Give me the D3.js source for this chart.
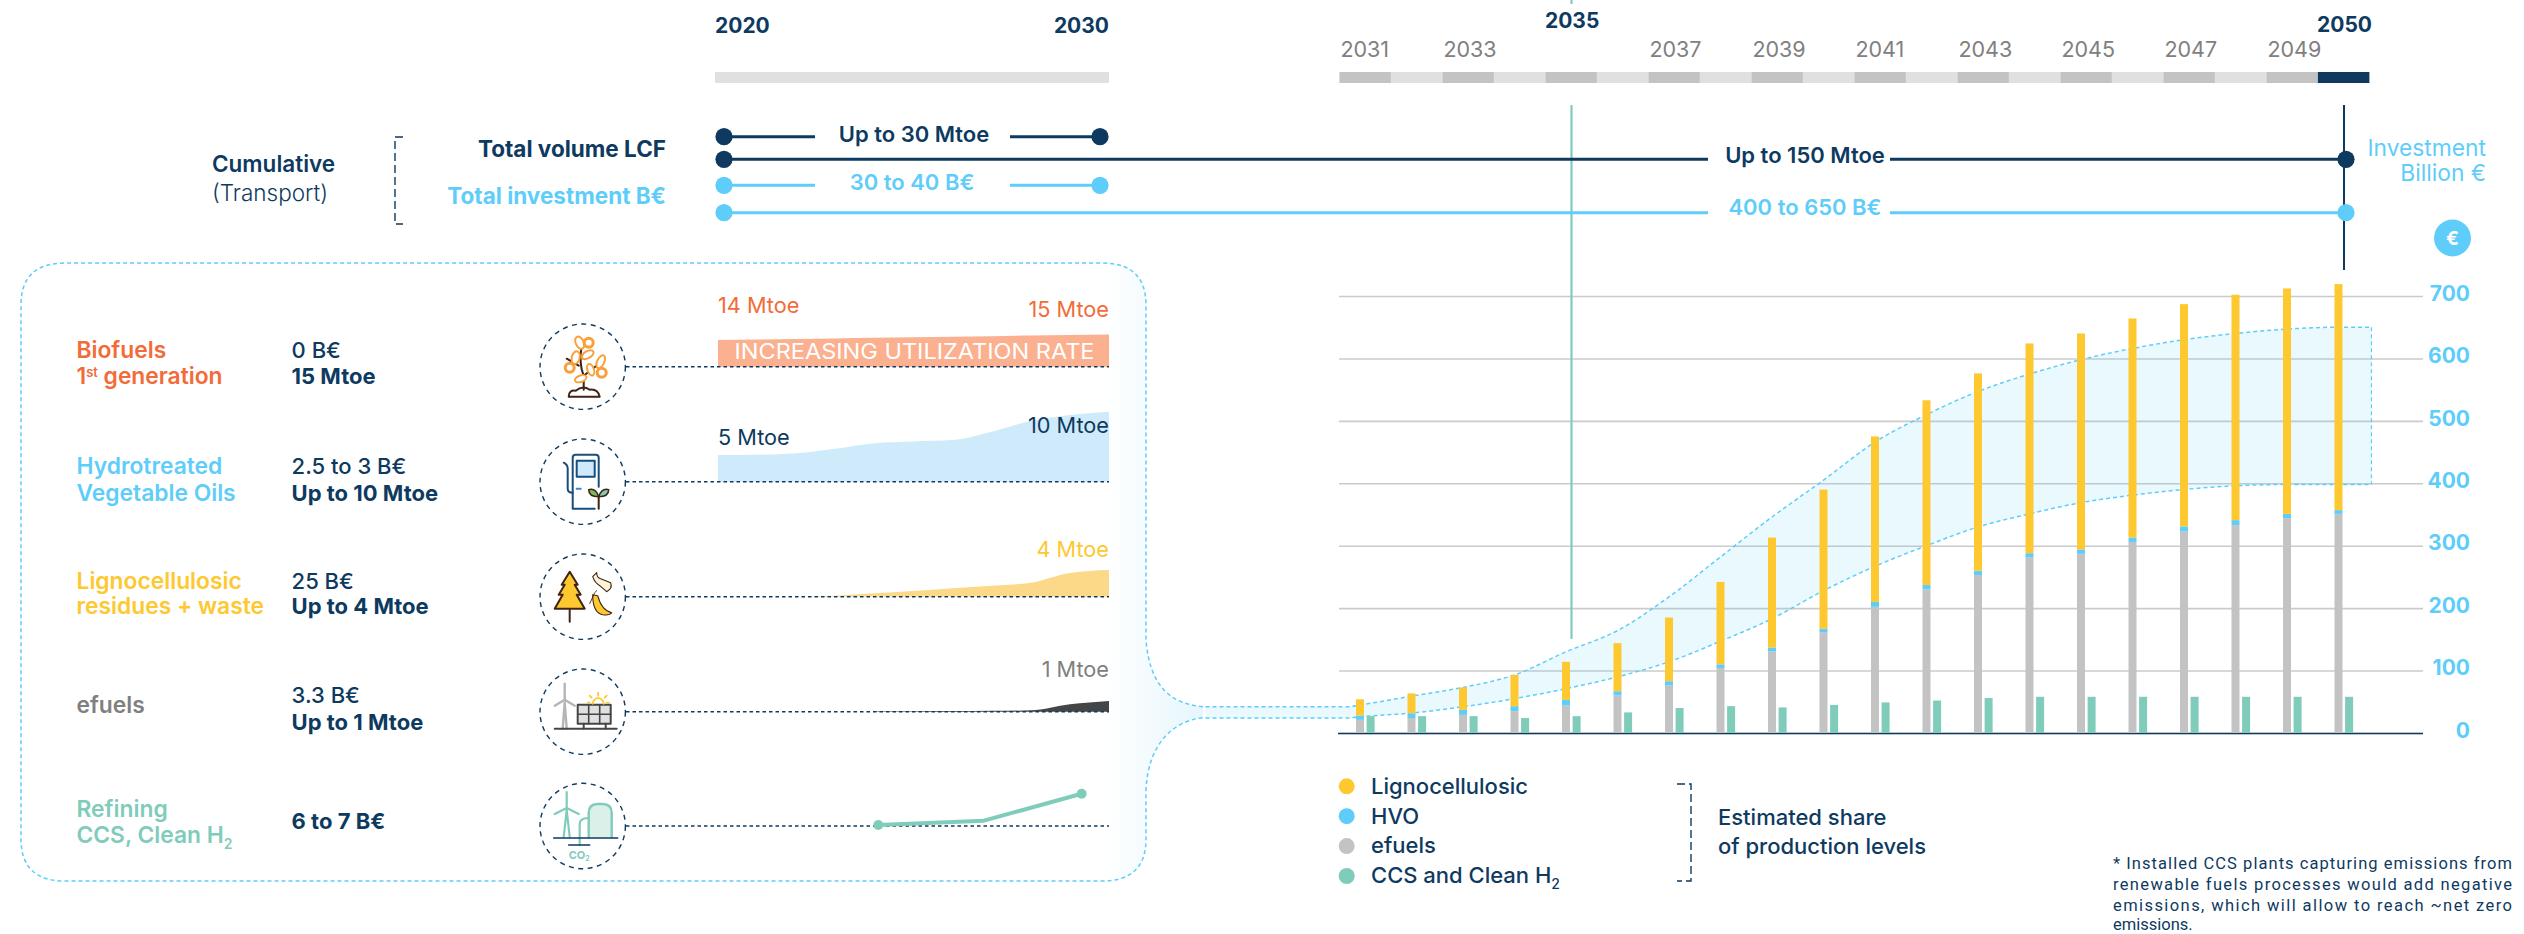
<!DOCTYPE html>
<html lang="en">
<head>
<meta charset="utf-8">
<script src="https://d3js.org/d3.v7.min.js"></script>
<style>
  html, body { margin: 0; padding: 0; background: #fff; }
  svg { display: block; }
  text { font-family: Inter, "Noto Sans", sans-serif; }
</style>
</head>
<body>
<script>
// colours
var navy = "#0e3a5f", sky = "#5fcdf9", yellow = "#fdc830", grey = "#c2c3c2",
    teal = "#7fccbb", orange = "#f26b38", midGrey = "#808080", salmon = "#fbb08f";

// yearly estimated production, stacked bars
var years = d3.range(2031, 2051);
var efuels = [21, 24, 29, 35, 44, 60, 76, 104, 131, 161, 202, 230, 253, 281, 287, 306, 323, 333, 344, 351];
var hvo = [7, 7.5, 8, 8, 9, 7, 7, 6, 6, 6, 8, 7, 7, 7, 7, 7, 8, 8, 7, 6];
var lignocellulosic = [26, 32, 36, 50, 61, 77, 102, 132, 176, 223, 265, 296, 316, 336, 346, 351, 356, 361, 361, 362];
var ccsH2 = [27, 27, 27, 24, 27, 33, 40, 43, 41, 45, 49, 52, 56, 58, 58, 58, 58, 58, 58, 58];

// investment band
var bandYears = [2028, 2030.75, 2031, 2032, 2033, 2034, 2035, 2036, 2037, 2038, 2039, 2040, 2041, 2042, 2043, 2044, 2045, 2046, 2047, 2048, 2049, 2050, 2050.64];
var bandUpper = [42, 42, 45, 59, 73, 93, 130, 164, 218, 282, 346, 405, 466, 510, 547, 575, 598, 616, 630, 640, 647, 650, 650];
var bandLower = [24, 24, 26, 32, 42, 55, 71, 90, 114, 147, 183, 228, 267, 300, 330, 351, 369, 381, 390, 396, 398, 398, 398];
var yTicks = [0, 100, 200, 300, 400, 500, 600, 700];

// small panel curves, on one shared 0-10 scale, 2020 to 2030
var panelYears = d3.range(2020, 2031);
var biofuelsArea = [3.8, 3.88, 3.96, 4.04, 4.12, 4.2, 4.28, 4.36, 4.44, 4.52, 4.6];
var hvoArea = [3.8, 3.85, 4.05, 4.7, 5.5, 5.76, 5.95, 7.14, 8.67, 9.52, 10];
var lignoArea = [null, null, 0, 0.14, 0.48, 0.8, 1.2, 1.57, 2, 3.4, 3.8];
var efuelsArea = [null, null, null, null, 0.05, 0.07, 0.09, 0.12, 0.19, 1.05, 1.52];
var ccsYears = [2024.1, 2026.8, 2029.3];
var ccsLine = [0.14, 0.76, 4.6];

var legendNames = ["Lignocellulosic", "HVO", "efuels", "CCS and Clean H"];
var legendColors = [yellow, sky, grey, teal];
var footnote = ["* Installed CCS plants capturing emissions from",
                "renewable fuels processes would add negative",
                "emissions,  which will allow to reach ~net zero",
                "emissions."];

var width = 2524, height = 934;
var svg = d3.select("body").append("svg").attr("width", width).attr("height", height);

function label(txt, x, y, color, size, weight, anchor) {
  return svg.append("text").attr("x", x).attr("y", y).attr("fill", color)
    .attr("font-size", size).attr("font-weight", weight || 400)
    .attr("text-anchor", anchor || "start").text(txt);
}
function sub(sel, txt, dy, size) {
  sel.append("tspan").attr("dy", dy).attr("font-size", size).text(txt);
  return sel;
}

// scales
var x = d3.scaleBand().domain(years).range([1339.4, 2369.4]);
var y = d3.scaleLinear().domain([0, 700]).range([733, 296]);
var bandX = d3.scaleLinear().domain([2031, 2050]).range([1360, 2338.5]);

/* ---------- timeline ---------- */
svg.append("rect").attr("x", 715).attr("y", 72).attr("width", 394).attr("height", 11).attr("fill", "#e0e0e0");
svg.selectAll(".seg").data(years).enter().append("rect").attr("class", "seg")
  .attr("x", function(d) { return x(d); })
  .attr("y", 72).attr("width", x.bandwidth()).attr("height", 11)
  .attr("fill", function(d) { return d == 2050 ? navy : (d % 2 ? grey : "#e0e0e0"); });
svg.selectAll(".yr").data(years.filter(function(d) { return d % 2 && d != 2035; })).enter().append("text").attr("class", "yr")
  .attr("x", function(d) { return x(d) + 1; }).attr("y", 57)
  .attr("fill", midGrey).attr("font-size", 21.5).text(function(d) { return d; });
label("2020", 715, 33, navy, 21, 700);
label("2030", 1109, 33, navy, 21, 700, "end");
label("2035", x(2035) + x.bandwidth() / 2 + 1, 28, navy, 21, 700, "middle");
label("2050", 2372, 32, navy, 21, 700, "end");

/* ---------- investment panel with neck ---------- */
var defs = svg.append("defs");
var grad = defs.append("linearGradient").attr("id", "neck").attr("gradientUnits", "userSpaceOnUse")
  .attr("x1", 1105).attr("x2", 1203).attr("y1", 0).attr("y2", 0);
grad.append("stop").attr("offset", 0).attr("stop-color", "#ffffff");
grad.append("stop").attr("offset", 1).attr("stop-color", "#e6f6fd");

svg.append("path")
  .attr("d", "M1203,706.7 C1172,704 1150,688 1146,640 L1146,305 Q1146,263 1102,263 L65,263 Q21,263 21,305 L21,839 Q21,881 65,881 L1102,881 Q1146,881 1146,839 L1146,790 C1148,745 1172,721 1203,717.7")
  .attr("fill", "url(#neck)").attr("stroke", sky).attr("stroke-width", 1.5).attr("stroke-dasharray", "4 3");

/* ---------- main chart ---------- */
var yAxis = d3.axisRight(y).tickValues(yTicks).tickSize(-1084).tickPadding(0);
var axisG = svg.append("g").attr("transform", "translate(2423,0)").call(yAxis);
axisG.select(".domain").remove();
axisG.selectAll(".tick line").attr("stroke", "#cbcbcb").attr("stroke-width", 1.6);
axisG.selectAll(".tick text").attr("x", 47).attr("dy", "0.2em").attr("text-anchor", "end")
  .attr("fill", sky).attr("font-size", 21).attr("font-weight", 700)
  .style("font-family", "Inter, sans-serif");
svg.append("line").attr("x1", 1338).attr("x2", 2423).attr("y1", y(0) + 0.5).attr("y2", y(0) + 0.5)
  .attr("stroke", navy).attr("stroke-width", 1.5);

var bandData = bandYears.map(function(d, i) { return { yr: d, lo: bandLower[i], hi: bandUpper[i] }; });
var bandArea = d3.area().curve(d3.curveMonotoneX)
  .x(function(d) { return bandX(d.yr); })
  .y0(function(d) { return y(d.lo); })
  .y1(function(d) { return y(d.hi); });
svg.append("path").datum(bandData).attr("d", bandArea).attr("fill", sky).attr("fill-opacity", 0.13);
var bandDash = "4 3";
[["hi"], ["lo"]].forEach(function(k) {
  svg.append("path").datum(bandData)
    .attr("d", d3.line().curve(d3.curveMonotoneX)
      .x(function(d) { return bandX(d.yr); })
      .y(function(d) { return y(d[k[0]]); }))
    .attr("fill", "none").attr("stroke", sky).attr("stroke-width", 1.5).attr("stroke-dasharray", bandDash);
});
svg.append("line").attr("x1", bandX(2050.64)).attr("x2", bandX(2050.64))
  .attr("y1", y(650)).attr("y2", y(398))
  .attr("stroke", sky).attr("stroke-width", 1.2).attr("stroke-dasharray", bandDash);

// stacked bars
var stackRows = years.map(function(d, i) {
  return { year: d, efuels: efuels[i], hvo: hvo[i], ligno: lignocellulosic[i] };
});
var stacked = d3.stack().keys(["efuels", "hvo", "ligno"])(stackRows);
var stackColor = { efuels: grey, hvo: sky, ligno: yellow };
svg.selectAll(".layer").data(stacked).enter().append("g").attr("class", "layer")
  .attr("fill", function(d) { return stackColor[d.key]; })
  .selectAll("rect").data(function(d) { return d; }).enter().append("rect")
  .attr("x", function(d) { return x(d.data.year) + 16.6; })
  .attr("y", function(d) { return y(d[1]); })
  .attr("width", 8)
  .attr("height", function(d) { return y(d[0]) - y(d[1]); });
svg.selectAll(".ccs").data(ccsH2).enter().append("rect").attr("class", "ccs")
  .attr("x", function(d, i) { return x(years[i]) + 27.2; })
  .attr("y", function(d) { return y(d); })
  .attr("width", 8)
  .attr("height", function(d) { return y(0) - y(d); })
  .attr("fill", teal);

// 2035 and 2050 markers
svg.append("line").attr("x1", 1571.5).attr("x2", 1571.5).attr("y1", 105).attr("y2", 639).attr("stroke", teal).attr("stroke-width", 2.2);
svg.append("line").attr("x1", 1571.5).attr("x2", 1571.5).attr("y1", 0).attr("y2", 4).attr("stroke", teal).attr("stroke-width", 2.2);
svg.append("line").attr("x1", 2344).attr("x2", 2344).attr("y1", 105).attr("y2", 270).attr("stroke", navy).attr("stroke-width", 2);

/* ---------- cumulative rows ---------- */
function bar(y0, x1, x2, gap1, gap2, color, txt, txtX, txtY) {
  svg.append("line").attr("x1", x1).attr("x2", gap1).attr("y1", y0).attr("y2", y0).attr("stroke", color).attr("stroke-width", 3);
  svg.append("line").attr("x1", gap2).attr("x2", x2).attr("y1", y0).attr("y2", y0).attr("stroke", color).attr("stroke-width", 3);
  svg.append("circle").attr("cx", x1).attr("cy", y0).attr("r", 8.6).attr("fill", color);
  svg.append("circle").attr("cx", x2).attr("cy", y0).attr("r", 8.6).attr("fill", color);
  label(txt, txtX, txtY, color, 22, 600, "middle");
}
bar(136.7, 724, 1100, 815, 1010, navy, "Up to 30 Mtoe", 914, 142);
bar(159.3, 724, 2346, 1708, 1890, navy, "Up to 150 Mtoe", 1805, 163);
bar(185.3, 724, 1100, 815, 1010, sky, "30 to 40 B€", 912, 190);
bar(212.7, 724, 2346, 1708, 1890, sky, "400 to 650 B€", 1805, 215);

label("Cumulative", 212, 171.7, navy, 22.5, 600);
label("(Transport)", 212, 201, navy, 22.5, 300);
label("Total volume LCF", 666, 157, navy, 22.5, 700, "end");
label("Total investment B€", 666, 203.5, sky, 22.5, 700, "end");
svg.append("path").attr("d", "M403,137 L395,137 L395,224 L403,224").attr("fill", "none")
  .attr("stroke", navy).attr("stroke-width", 1.4).attr("stroke-dasharray", "8 4");

label("Investment", 2486, 155.7, sky, 22.8, 400, "end");
label("Billion €", 2486, 180.7, sky, 22.8, 400, "end");
svg.append("circle").attr("cx", 2452.5).attr("cy", 238).attr("r", 18.5).attr("fill", sky);
label("€", 2452.5, 245, "#fff", 19, 700, "middle");

/* ---------- panel rows ---------- */
var rowY = [366.7, 481.7, 596.7, 711.7, 826];
var panelX = d3.scaleLinear().domain([2020, 2030]).range([718, 1109]);
var panelH = d3.scaleLinear().domain([0, 10]).range([0, 70]);

function panelArea(values, baseY, color) {
  var pts = panelYears.map(function(d, i) { return { yr: d, v: values[i] }; })
    .filter(function(d) { return d.v !== null; });
  svg.append("path").datum(pts)
    .attr("d", d3.area().curve(d3.curveMonotoneX)
      .x(function(d) { return panelX(d.yr); })
      .y0(baseY)
      .y1(function(d) { return baseY - panelH(d.v); }))
    .attr("fill", color);
}
panelArea(biofuelsArea, rowY[0], salmon);
panelArea(hvoArea, rowY[1], "#cfeafa");
panelArea(lignoArea, rowY[2], "#fbd988");
panelArea(efuelsArea, rowY[3], "#444546");

rowY.forEach(function(r) {
  svg.append("line").attr("x1", 626).attr("x2", 1109).attr("y1", r).attr("y2", r)
    .attr("stroke", navy).attr("stroke-width", 1.6).attr("stroke-dasharray", "3.5 3");
  svg.append("circle").attr("cx", 582.7).attr("cy", r).attr("r", 42.7)
    .attr("fill", "#fff").attr("stroke", navy).attr("stroke-width", 1.4).attr("stroke-dasharray", "5 4.5");
});

// CCS line
var ccsPts = ccsYears.map(function(d, i) { return { yr: d, v: ccsLine[i] }; });
svg.append("path").datum(ccsPts)
  .attr("d", d3.line()
    .x(function(d) { return panelX(d.yr); })
    .y(function(d) { return rowY[4] - panelH(d.v); }))
  .attr("fill", "none").attr("stroke", teal).attr("stroke-width", 4).attr("stroke-linejoin", "round");
svg.selectAll(".ccsDot").data([ccsPts[0], ccsPts[2]]).enter().append("circle").attr("class", "ccsDot")
  .attr("cx", function(d) { return panelX(d.yr); })
  .attr("cy", function(d) { return rowY[4] - panelH(d.v); })
  .attr("r", 5).attr("fill", teal);

label("INCREASING UTILIZATION RATE", 734.5, 359.3, "#fff", 21.5, 400).attr("textLength", 360).attr("lengthAdjust", "spacingAndGlyphs");
label("14 Mtoe", 718, 313.3, orange, 21.7);
label("15 Mtoe", 1109, 316.7, orange, 21.7, 400, "end");
label("5 Mtoe", 718, 445, navy, 21.7);
label("10 Mtoe", 1109, 433, navy, 21.7, 400, "end");
label("4 Mtoe", 1109, 557, yellow, 21.7, 400, "end");
label("1 Mtoe", 1109, 677, midGrey, 21.7, 400, "end");

// left hand text
var tx = 76.5, vx = 291.6, ts = 22.8;
label("Biofuels", tx, 357.7, orange, ts, 600);
sub(sub(label("1", tx, 384, orange, ts, 600), "st", -7, 13), " generation", 7, ts);
label("0 B€", vx, 357.7, navy, 22, 500);
label("15 Mtoe", vx, 384, navy, 22, 700);
label("Hydrotreated", tx, 474, sky, ts, 600);
label("Vegetable Oils", tx, 500.7, sky, ts, 600);
label("2.5 to 3 B€", vx, 474, navy, 22, 500);
label("Up to 10 Mtoe", vx, 500.7, navy, 22, 700);
label("Lignocellulosic", tx, 589, yellow, ts, 600);
label("residues + waste", tx, 614.3, yellow, ts, 600);
label("25 B€", vx, 589, navy, 22, 500);
label("Up to 4 Mtoe", vx, 614.3, navy, 22, 700);
label("efuels", tx, 712.7, midGrey, ts, 600);
label("3.3 B€", vx, 703.3, navy, 22, 500);
label("Up to 1 Mtoe", vx, 730, navy, 22, 700);
label("Refining", tx, 817.3, teal, ts, 600);
sub(label("CCS, Clean H", tx, 843.3, teal, ts, 600), "2", 6, 14);
label("6 to 7 B€", vx, 829.3, navy, 22, 700);

/* ---------- icons, roughly traced ---------- */
var brown = "#3f2413";
function icon(i) {
  return svg.append("g").attr("transform", "translate(582.7," + rowY[i] + ")")
    .attr("fill", "none").attr("stroke-linecap", "round").attr("stroke-linejoin", "round");
}
// plant
var g0 = icon(0);
g0.append("path").attr("d", "M-14,30 Q-14,23 -7,24 Q0,18 7,23 Q15,22 17,30 Z").attr("fill", "#fff").attr("stroke", brown).attr("stroke-width", 2);
g0.append("path").attr("d", "M1,23 L1,9 Q-4,-2 -1,-22 M1,9 L15,-2 M-4,-1 L-16,-8").attr("stroke", brown).attr("stroke-width", 2);
[[-3, -24, 4, 6.5, -25], [-7, -9, 4, 6.5, 15], [5, -12, 3.5, 6.5, 60], [18, -5, 3.5, 7, 25], [8, 3, 3.2, 6, -20], [-2, 12, 3.2, 6, 70]].forEach(function(l) {
  g0.append("ellipse").attr("rx", l[2]).attr("ry", l[3]).attr("fill", "#fff").attr("stroke", "#f9a03c").attr("stroke-width", 2)
    .attr("transform", "translate(" + l[0] + "," + l[1] + ") rotate(" + l[4] + ")");
});
[[6, -24], [-13, 1], [19, 6]].forEach(function(l) {
  g0.append("circle").attr("cx", l[0]).attr("cy", l[1]).attr("r", 4.5).attr("fill", "#fff").attr("stroke", "#f9a03c").attr("stroke-width", 3);
});
// pump
var g1 = icon(1);
g1.append("path").attr("d", "M-10,27 L-10,-24 Q-10,-27 -7,-27 L13,-27 Q16,-27 16,-24 L16,5 M-10,27 L12,27").attr("stroke", "#184e7e").attr("stroke-width", 2);
g1.append("rect").attr("x", -6).attr("y", -21).attr("width", 18).attr("height", 16).attr("fill", "#cfeafa").attr("stroke", "#184e7e").attr("stroke-width", 2);
g1.append("path").attr("d", "M-19,-19 Q-15,-17 -15,-13 L-15,7 Q-15,11 -10,11").attr("stroke", "#184e7e").attr("stroke-width", 2);
g1.append("line").attr("x1", -6).attr("x2", -2).attr("y1", 7).attr("y2", 7).attr("stroke", "#3a86c4").attr("stroke-width", 2);
g1.append("path").attr("d", "M16,27 L16,15").attr("stroke", brown).attr("stroke-width", 2);
g1.append("path").attr("d", "M16,15 Q6,15 6,8 Q13,6 16,15").attr("fill", "#7cb86a").attr("stroke", brown).attr("stroke-width", 1.5);
g1.append("path").attr("d", "M16,15 Q26,15 26,8 Q19,6 16,15").attr("fill", "#7fccbb").attr("stroke", brown).attr("stroke-width", 1.5);
// tree and waste
var g2 = icon(2);
g2.append("line").attr("x1", -13).attr("x2", -13).attr("y1", 13).attr("y2", 25).attr("stroke", brown).attr("stroke-width", 2);
g2.append("path").attr("d", "M-13,-25 L-5,-12 L-8,-12 L-2,-2 L-6,-2 L2,12 L-28,12 L-20,-2 L-24,-2 L-18,-12 L-21,-12 Z").attr("fill", yellow).attr("stroke", brown).attr("stroke-width", 2);
g2.append("path").attr("d", "M14,-24 Q14,-19 18,-18 L28,-14 Q30,-8 24,-5 L17,-11 Q12,-14 10,-20 Z").attr("fill", "#fdf3d8").attr("stroke", brown).attr("stroke-width", 1.1);
g2.append("path").attr("d", "M10,-2 Q10,16 20,18 Q27,19 29,16 Q19,14 15,-1 Z").attr("fill", yellow).attr("stroke", brown).attr("stroke-width", 1.1);
g2.append("path").attr("d", "M7,7 L12,-4 L14,-6").attr("stroke", brown).attr("stroke-width", 0.9);
// wind and solar
var g3 = icon(3);
g3.append("path").attr("d", "M-20,17 L-18,-9 L-16,17 M-18,-28 L-18,-12 M-18,-12 L-28,-6 M-18,-12 L-8,-6").attr("stroke", "#b5b5b5").attr("stroke-width", 2.4);
g3.append("rect").attr("x", -5).attr("y", -7).attr("width", 33).attr("height", 19).attr("fill", "#e0e0e0").attr("stroke", "#444546").attr("stroke-width", 2);
g3.append("path").attr("d", "M6,-7 L6,12 M17,-7 L17,12 M-5,2.5 L28,2.5").attr("stroke", "#444546").attr("stroke-width", 1.6);
g3.append("path").attr("d", "M1,12 L1,17 M23,12 L23,17").attr("stroke", "#444546").attr("stroke-width", 2);
g3.append("line").attr("x1", -28).attr("x2", 34).attr("y1", 17).attr("y2", 17).attr("stroke", "#444546").attr("stroke-width", 2);
g3.append("path").attr("d", "M10,-8 A5.5,5.5 0 0 1 21,-8 M15.5,-19 L15.5,-16 M7,-16 L9,-14 M24,-16 L22,-14 M5,-9 L7,-9 M24,-9 L26,-9").attr("stroke", yellow).attr("stroke-width", 1.8);
// wind and CCS
var g4 = icon(4);
g4.append("path").attr("d", "M-19,11 L-16,-16 L-13,11 M-16,-34 L-16,-18 M-16,-18 L-28,-12 M-16,-18 L-4,-12").attr("stroke", teal).attr("stroke-width", 2.2);
g4.append("path").attr("d", "M6,11 L6,-13 Q6,-22 15,-22 L20,-22 Q29,-22 29,-13 L29,11").attr("fill", "#dcf0ea").attr("stroke", teal).attr("stroke-width", 2.4);
g4.append("path").attr("d", "M-3,19 L-3,-2 Q-3,-8 6,-8").attr("stroke", teal).attr("stroke-width", 2.2);
g4.append("line").attr("x1", -29).attr("x2", 35).attr("y1", 12).attr("y2", 12).attr("stroke", navy).attr("stroke-width", 1.6);
g4.append("line").attr("x1", -14).attr("x2", 7).attr("y1", 19).attr("y2", 19).attr("stroke", navy).attr("stroke-width", 1.6);
sub(g4.append("text").attr("x", -14).attr("y", 33).attr("fill", teal).attr("stroke", "none").attr("font-size", 11).attr("font-weight", 700).text("CO"), "2", 2, 7);

/* ---------- legend ---------- */
var legendY = d3.scalePoint().domain(legendNames).range([786.3, 876]);
svg.selectAll(".lg").data(legendNames).enter().append("circle").attr("class", "lg")
  .attr("cx", 1346.7).attr("cy", function(d) { return legendY(d); }).attr("r", 8)
  .attr("fill", function(d, i) { return legendColors[i]; });
legendNames.forEach(function(n) {
  var t = label(n, 1371, legendY(n) + 7.3, navy, 22, 500);
  if (n.indexOf("H") == n.length - 1) sub(t, "2", 6, 14);
});
svg.append("path").attr("d", "M1677,784 L1691,784 L1691,881 L1677,881").attr("fill", "none")
  .attr("stroke", navy).attr("stroke-width", 1.4).attr("stroke-dasharray", "8 4");
label("Estimated share", 1718, 825, navy, 22, 500);
label("of production levels", 1718, 854, navy, 22, 500);

var noteY = [869, 890, 911, 930];
footnote.forEach(function(line, i) {
  var t = label(line, 2113, noteY[i], navy, 16.5, 400).style("font-family", "Roboto, sans-serif");
  if (i < 3) t.attr("textLength", 399).attr("lengthAdjust", "spacing");
});
</script>
</body>
</html>
